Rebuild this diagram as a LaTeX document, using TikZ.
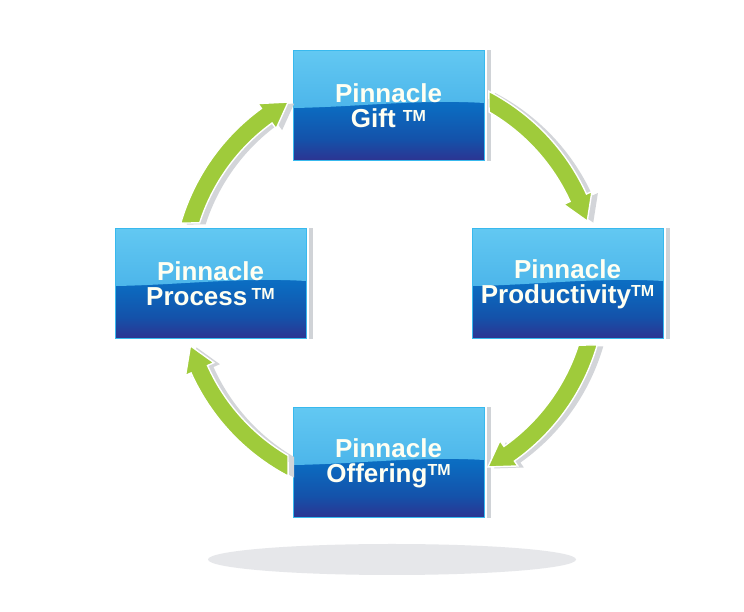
\documentclass[tikz,border=0pt]{standalone}
\usepackage{fontspec}
\setmainfont{Liberation Sans}
\usetikzlibrary{calc}
\definecolor{bborder}{HTML}{38B9EE}
\definecolor{bbot}{HTML}{2D3391}
\definecolor{bdeep}{HTML}{1452AA}
\definecolor{bmid}{HTML}{0B6CC1}
\definecolor{bupper}{HTML}{1A82D0}
\definecolor{glossb}{HTML}{38A4E3}
\definecolor{glosst}{HTML}{62C8F2}
\definecolor{ctext}{HTML}{FFFFF2}
\definecolor{agreen}{HTML}{9FCB3B}
\definecolor{ashadow}{HTML}{D3D5D9}
\definecolor{barcol}{HTML}{D0D3D7}
\definecolor{ellcol}{HTML}{E6E7EA}
\pgfdeclareverticalshading{boxbase}{100bp}{color(0bp)=(bbot); color(25bp)=(bbot); color(35bp)=(bdeep); color(50bp)=(bmid); color(75bp)=(bupper); color(100bp)=(bupper)}
\pgfdeclareverticalshading{glossshade}{100bp}{color(0bp)=(glossb); color(25bp)=(glossb); color(75bp)=(glosst); color(100bp)=(glosst)}
\newcommand\tmark{{\fontsize{16pt}{16pt}\selectfont\raisebox{6.5pt}{TM}}}
\tikzset{
  pbox/.style={rectangle, minimum width=191pt, minimum height=110pt, inner sep=0pt,
    shade, shading=boxbase, draw=bborder, line width=1pt, text=ctext, align=center,
    font=\bfseries\fontsize{26pt}{25pt}\selectfont,
    path picture={\shade[shading=glossshade]
      (path picture bounding box.north west) -- (path picture bounding box.north east)
      -- ($(path picture bounding box.north east)+(0,-52pt)$)
      .. controls ($(path picture bounding box.north)+(30pt,-48pt)$) and ($(path picture bounding box.north)+(-30pt,-56pt)$)
      .. ($(path picture bounding box.north west)+(0,-57pt)$) -- cycle;}},
  boxbar/.style={fill=barcol},
  pics/cyc/.style n args={4}{code={
    \path[pic actions] (#1:217pt) arc[start angle=#1, end angle=#3, radius=217pt]
      -- (#3:223pt) -- (#4:208pt) -- (#3:192pt) -- (#3:199pt)
      arc[start angle=#3, end angle=#2, radius=199pt] -- cycle;}},
  arrowshadow/.style={fill=ashadow},
  arrowbody/.style={fill=agreen, draw=white, line width=1.4pt, line join=miter}
}
\begin{document}
\begin{tikzpicture}[x=1pt,y=1pt]
\useasboundingbox (0,0) rectangle (744,612);
\fill[white] (0,0) rectangle (744,612);
% floor shadow
\fill[ellcol] (392,52.5) ellipse [x radius=184, y radius=15.5];
% boxes
\node[pbox] (gift)  at (388.5,506) {Pinnacle\\Gift \tmark};
\node[pbox] (prod)  at (567.5,328) {Pinnacle\\Productivity\tmark};
\node[pbox] (offer) at (388.5,149) {Pinnacle\\Offering\tmark};
\node[pbox] (proc)  at (210.5,328) {Pinnacle\\Process\,\tmark};
\foreach \b in {gift,prod,offer,proc}{
  \fill[boxbar] ([xshift=2pt]\b.north east) rectangle ([xshift=6pt]\b.south east);
}
% cycle arrows
\coordinate (C) at (389,328);
\pic[arrowshadow] at ($(C)+(6pt,-1.5pt)$) {cyc={163.7}{162.1}{126}{119}};
\pic[arrowshadow] at ($(C)+(6pt,-1.5pt)$) {cyc={62.6}{59.8}{24.5}{17.6}};
\pic[arrowshadow] at ($(C)+(6pt,-1.5pt)$) {cyc={-16.3}{-17.9}{-54.7}{-61.6}};
\pic[arrowshadow] at ($(C)+(6pt,-1.5pt)$) {cyc={-117.7}{-120.5}{-155.8}{-162.7}};
\pic[arrowbody] at (C) {cyc={163.7}{162.1}{126}{119}};
\pic[arrowbody] at (C) {cyc={62.6}{59.8}{24.5}{17.6}};
\pic[arrowbody] at (C) {cyc={-16.3}{-17.9}{-54.7}{-61.6}};
\pic[arrowbody] at (C) {cyc={-117.7}{-120.5}{-155.8}{-162.7}};
\end{tikzpicture}
\end{document}
